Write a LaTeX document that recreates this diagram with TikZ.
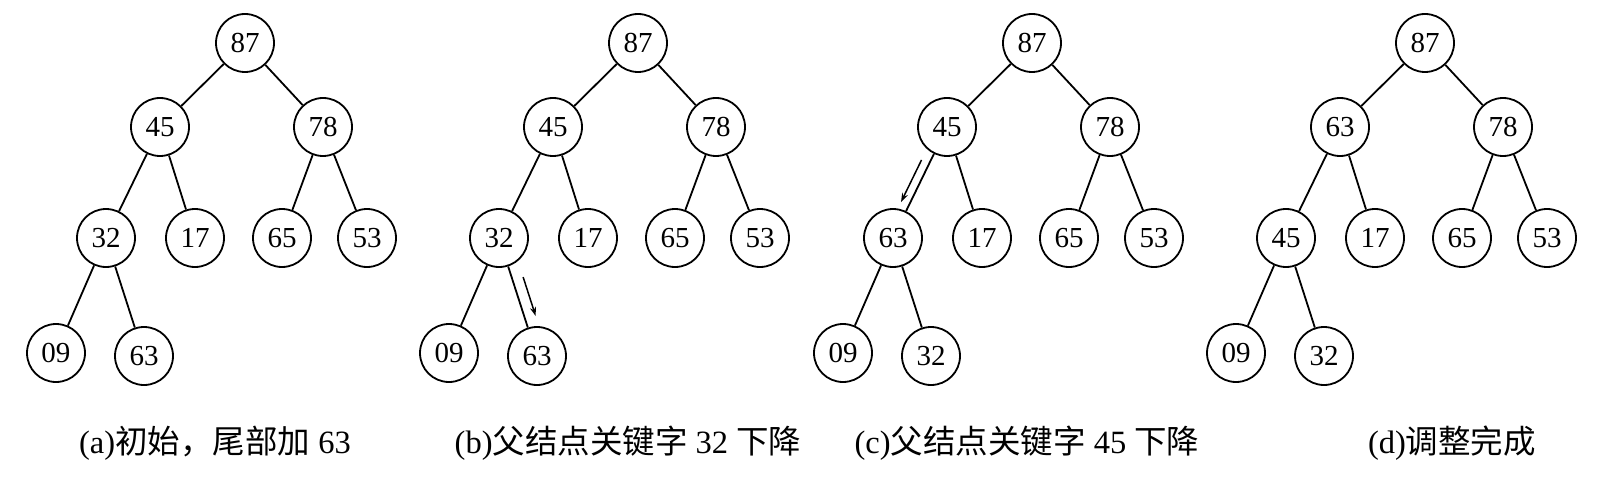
\documentclass[tikz,border=0pt]{standalone}
\usepackage{fontspec}
\setmainfont{Liberation Serif}
\newfontfamily\cjk{Noto Sans CJK SC}
\usetikzlibrary{arrows.meta,calc}
\begin{document}
\begin{tikzpicture}[x=1pt,y=-1pt,
  hn/.style={circle,draw,line width=1.8pt,minimum size=58pt,inner sep=0pt,font=\fontsize{29}{29}\selectfont},
  edge/.style={line width=1.8pt},
  mv/.style={line width=1.5pt,-{Stealth[length=9pt,width=6pt]}},
  captext/.style={font=\fontsize{32.5}{32.5}\selectfont,inner sep=0pt}]
\useasboundingbox (0,0) rectangle (1620,484);
\foreach \p/\X/\u/\v/\w in {a/245/45/32/63, b/638/45/32/63, c/1032/45/63/32, d/1425/63/45/32}{
  \node[hn] (\p0) at (\X,43) {87};
  \node[hn] (\p1) at (\X-85,127) {\u};
  \node[hn] (\p2) at (\X+78,127) {78};
  \node[hn] (\p3) at (\X-139,238) {\v};
  \node[hn] (\p4) at (\X-50,238) {17};
  \node[hn] (\p5) at (\X+37,238) {65};
  \node[hn] (\p6) at (\X+122,238) {53};
  \node[hn] (\p7) at (\X-189,353) {09};
  \node[hn] (\p8) at (\X-101,356) {\w};
  \draw[edge] (\p0)--(\p1) (\p0)--(\p2) (\p1)--(\p3) (\p1)--(\p4)
              (\p2)--(\p5) (\p2)--(\p6) (\p3)--(\p7) (\p3)--(\p8);
}
\draw[mv] ($(b3)!0.36!(b8)!11pt!90:(b8)$) -- ($(b3)!0.69!(b8)!11pt!90:(b8)$);
\draw[mv] ($(c1)!0.33!(c3)!8.5pt!-90:(c3)$) -- ($(c1)!0.71!(c3)!8.5pt!-90:(c3)$);
\node[captext] (capa) at (215,443) {(a){\cjk 初始，尾部加} 63};
\node[captext] (capb) at (628,443) {(b){\cjk 父结点关键字} 32 {\cjk 下降}};
\node[captext] (capc) at (1027,443) {(c){\cjk 父结点关键字} 45 {\cjk 下降}};
\node[captext] (capd) at (1452,443) {(d){\cjk 调整完成}};
\end{tikzpicture}
\end{document}
